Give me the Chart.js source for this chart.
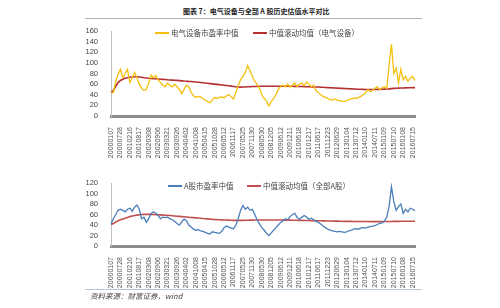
<!DOCTYPE html>
<html>
<head>
<meta charset="utf-8">
<script src="https://cdn.jsdelivr.net/npm/chart.js"></script>
<style>
  body { margin: 0; background: #fff; }
  #wrap { position: relative; width: 500px; height: 308px; overflow: hidden; font-family: "Noto Sans CJK SC", sans-serif; color: #333; }
  canvas { position: absolute; left: 0; }
  #c1 { top: 0; }
  #c2 { top: 160px; }
  .title { position: absolute; top: 6px; left: 183px; font-size: 7px; font-weight: bold; color: #222; white-space: nowrap; }
  .rule { position: absolute; left: 85px; width: 337px; height: 1px; background: #a9b3bd; }
  .leg { position: absolute; font-size: 7.5px; white-space: nowrap; color: #444; line-height: 10px; }
  .leg i { display: inline-block; width: 14px; height: 2px; vertical-align: middle; margin-right: 2px; position: relative; top: -1px; }
  .src { position: absolute; top: 290px; left: 90px; font-size: 7.5px; font-style: italic; color: #444; white-space: nowrap; }
</style>
</head>
<body>
<div id="wrap">
  <div class="title">图表 7：电气设备与全部 A 股历史估值水平对比</div>
  <div class="rule" style="top:18px"></div>
  <canvas id="c1" width="500" height="160"></canvas>
  <canvas id="c2" width="500" height="130"></canvas>
  <div class="leg" style="left:155px;top:28px"><i style="background:#f5bf0f"></i>电气设备市盈率中值</div>
  <div class="leg" style="left:253px;top:28px"><i style="background:#b52f2f"></i>中值滚动均值（电气设备）</div>
  <div class="leg" style="left:168px;top:181px"><i style="background:#4a7ebb"></i>A股市盈率中值</div>
  <div class="leg" style="left:247px;top:181px"><i style="background:#c0504d"></i>中值滚动均值（全部A股）</div>
  <div class="rule" style="top:289px;background:#b8c6d4"></div>
  <div class="src">资料来源：财富证券，wind</div>
</div>
<script>
const tickLabels = ['20000107','20000728','20010216','20010817','20020308','20020906','20030321','20030926',
  '20040402','20041008','20050415','20051028','20060512','20061117','20070525','20071130','20080530',
  '20081205','20090612','20091211','20100618','20101217','20110617','20111223','20120629','20130104',
  '20130712','20140110','20140711','20150109','20150710','20160108','20160715'];

// 4 points per label interval
const elecPE = [44,44,65,78,88,72,80,88,63,72, 82,72,60,52,48,50,62,77,72,76,
  68,63,58,55,62,58,55,60,55,50, 42,50,58,55,45,38,35,37,36,33,
  30,27,25,30,35,33,35,36,34,38, 40,36,32,45,58,68,75,82,95,85,
  75,65,60,52,40,33,28,19,27,33, 40,50,56,58,55,60,54,58,62,55,
  60,62,57,64,60,55,58,48,44,40, 37,35,33,31,30,32,30,29,28,27,
  29,31,32,34,33,35,37,40,43,50, 46,48,52,55,50,53,55,52,95,135,
  80,90,62,88,68,75,65,72,74,67];

const elecMA = [44,48,56,63,67,69,71,72,73,73.5,74,74,73.5,73,72,71.5,71,
  70.6,70.3,70,69.7,69.3,69,68.6,68.2, 67.9,67.6,67.3,67,66.6,66.2,65.8,65.5,
  65.1,64.8,64.4,64,63.5,63,62.5,62, 61.5,61,60.5,60,59.5,59,58.5,58,
  57.4,56.8,56.2,55.6,55,54.6,54.4,54.5, 54.7,55,55.2,55.4,55.6,55.8,55.9,56,
  56,56,56,56,56,56,56,56, 56,56,56,56,55.9,55.8,55.7,55.5,
  55.4,55.3,55.2,55,54.9,54.8,54.6,54.5, 54.2,54,53.7,53.5,53.2,53,52.7,52.5,
  52.2,52,51.7,51.5,51.2,51,50.7,50.5, 50.4,50.3,50.2,50,50,50,50,50,
  50.1,50.2,50.3,50.5,50.7,51,51.5,52, 52.2,52.4,52.6,52.8,53,53.1,53.2,53.4,53.5];

const allPE = [42,52,60,68,70,68,65,70,72,66, 74,78,70,52,55,45,52,62,65,63,
  58,52,55,54,55,52,50,47,43,40, 46,51,48,40,36,32,30,31,29,28,
  26,24,23,27,26,25,24,28,35,38, 36,34,33,40,52,68,77,70,74,68,
  70,60,50,42,35,30,24,20,25,30, 35,40,45,48,52,50,56,60,62,54,
  51,55,58,55,51,53,50,47,45,42, 38,35,32,30,29,28,27,28,27,26,
  27,29,30,32,33,32,34,35,34,36, 37,38,39,41,43,44,47,55,75,113,
  85,68,75,80,62,70,65,72,70,67];

const allMA = [41,43,45.5,48,50,51.5,53,54.5,56,57,58,58.8,59.5,60,60.2,60.3,60.3,
  60.2,60,59.8,59.5,59.2,58.9,58.6,58.3, 58,57.6,57.2,56.8,56.4,56,55.6,55.2,
  54.8,54.4,54,53.6,53.2,52.8,52.4,52, 51.6,51.2,50.8,50.5,50.2,50,49.8,49.6,
  49.4,49.2,49,48.9,48.8,48.8,48.8,48.9, 49,49.1,49.2,49.3,49.4,49.5,49.6,49.6,
  49.6,49.6,49.6,49.6,49.5,49.5,49.4,49.4, 49.3,49.3,49.2,49.2,49.1,49,49,48.9,
  48.8,48.7,48.6,48.5,48.4,48.3,48.2,48.1, 48,47.9,47.8,47.7,47.6,47.5,47.4,47.3,
  47.2,47.1,47,47,46.9,46.9,46.8,46.8, 46.7,46.7,46.6,46.6,46.6,46.5,46.5,46.5,
  46.5,46.5,46.5,46.6,46.6,46.7,46.8,46.9, 47,47,47.1,47.1,47.1,47.2,47.2,47.2,47.2];

const categories = elecPE.map((v, i) => i);

function makeChart(id, pe, ma, peColor, maColor, yMax, padTop) {
  return new Chart(document.getElementById(id), {
    type: 'line',
    data: {
      labels: categories,
      datasets: [
        { data: pe, borderColor: peColor, borderWidth: 1.3, pointRadius: 0, tension: 0 },
        { data: ma, borderColor: maColor, borderWidth: 1.6, pointRadius: 0, tension: 0 }
      ]
    },
    options: {
      responsive: false,
      animation: false,
      layout: { padding: { left: 85, right: 85, top: padTop, bottom: 2 } },
      plugins: { legend: { display: false }, tooltip: { enabled: false } },
      scales: {
        x: {
          offset: false,
          grid: { display: false },
          border: { display: true, color: '#8c8c8c', width: 3 },
          afterFit: s => { s.height = 42; },
          ticks: {
            autoSkip: false, maxRotation: 90, minRotation: 90, padding: 3,
            color: '#555', font: { family: 'Liberation Sans', size: 7 },
            callback: (v, i) => (i % 4 === 0 ? tickLabels[i / 4] : '')
          }
        },
        y: {
          min: 0, max: yMax,
          grid: { display: false },
          border: { display: true, color: '#bfbfbf', width: 1 },
          afterFit: s => { s.width = 26; },
          ticks: { autoSkip: false, stepSize: 20, padding: 5, color: '#444', font: { family: 'Liberation Sans', size: 7.5 } }
        }
      }
    }
  });
}

makeChart('c1', elecPE, elecMA, '#f5bf0f', '#b52f2f', 160, 31);
makeChart('c2', allPE, allMA, '#4a7ebb', '#c0504d', 120, 23);
</script>
</body>
</html>
